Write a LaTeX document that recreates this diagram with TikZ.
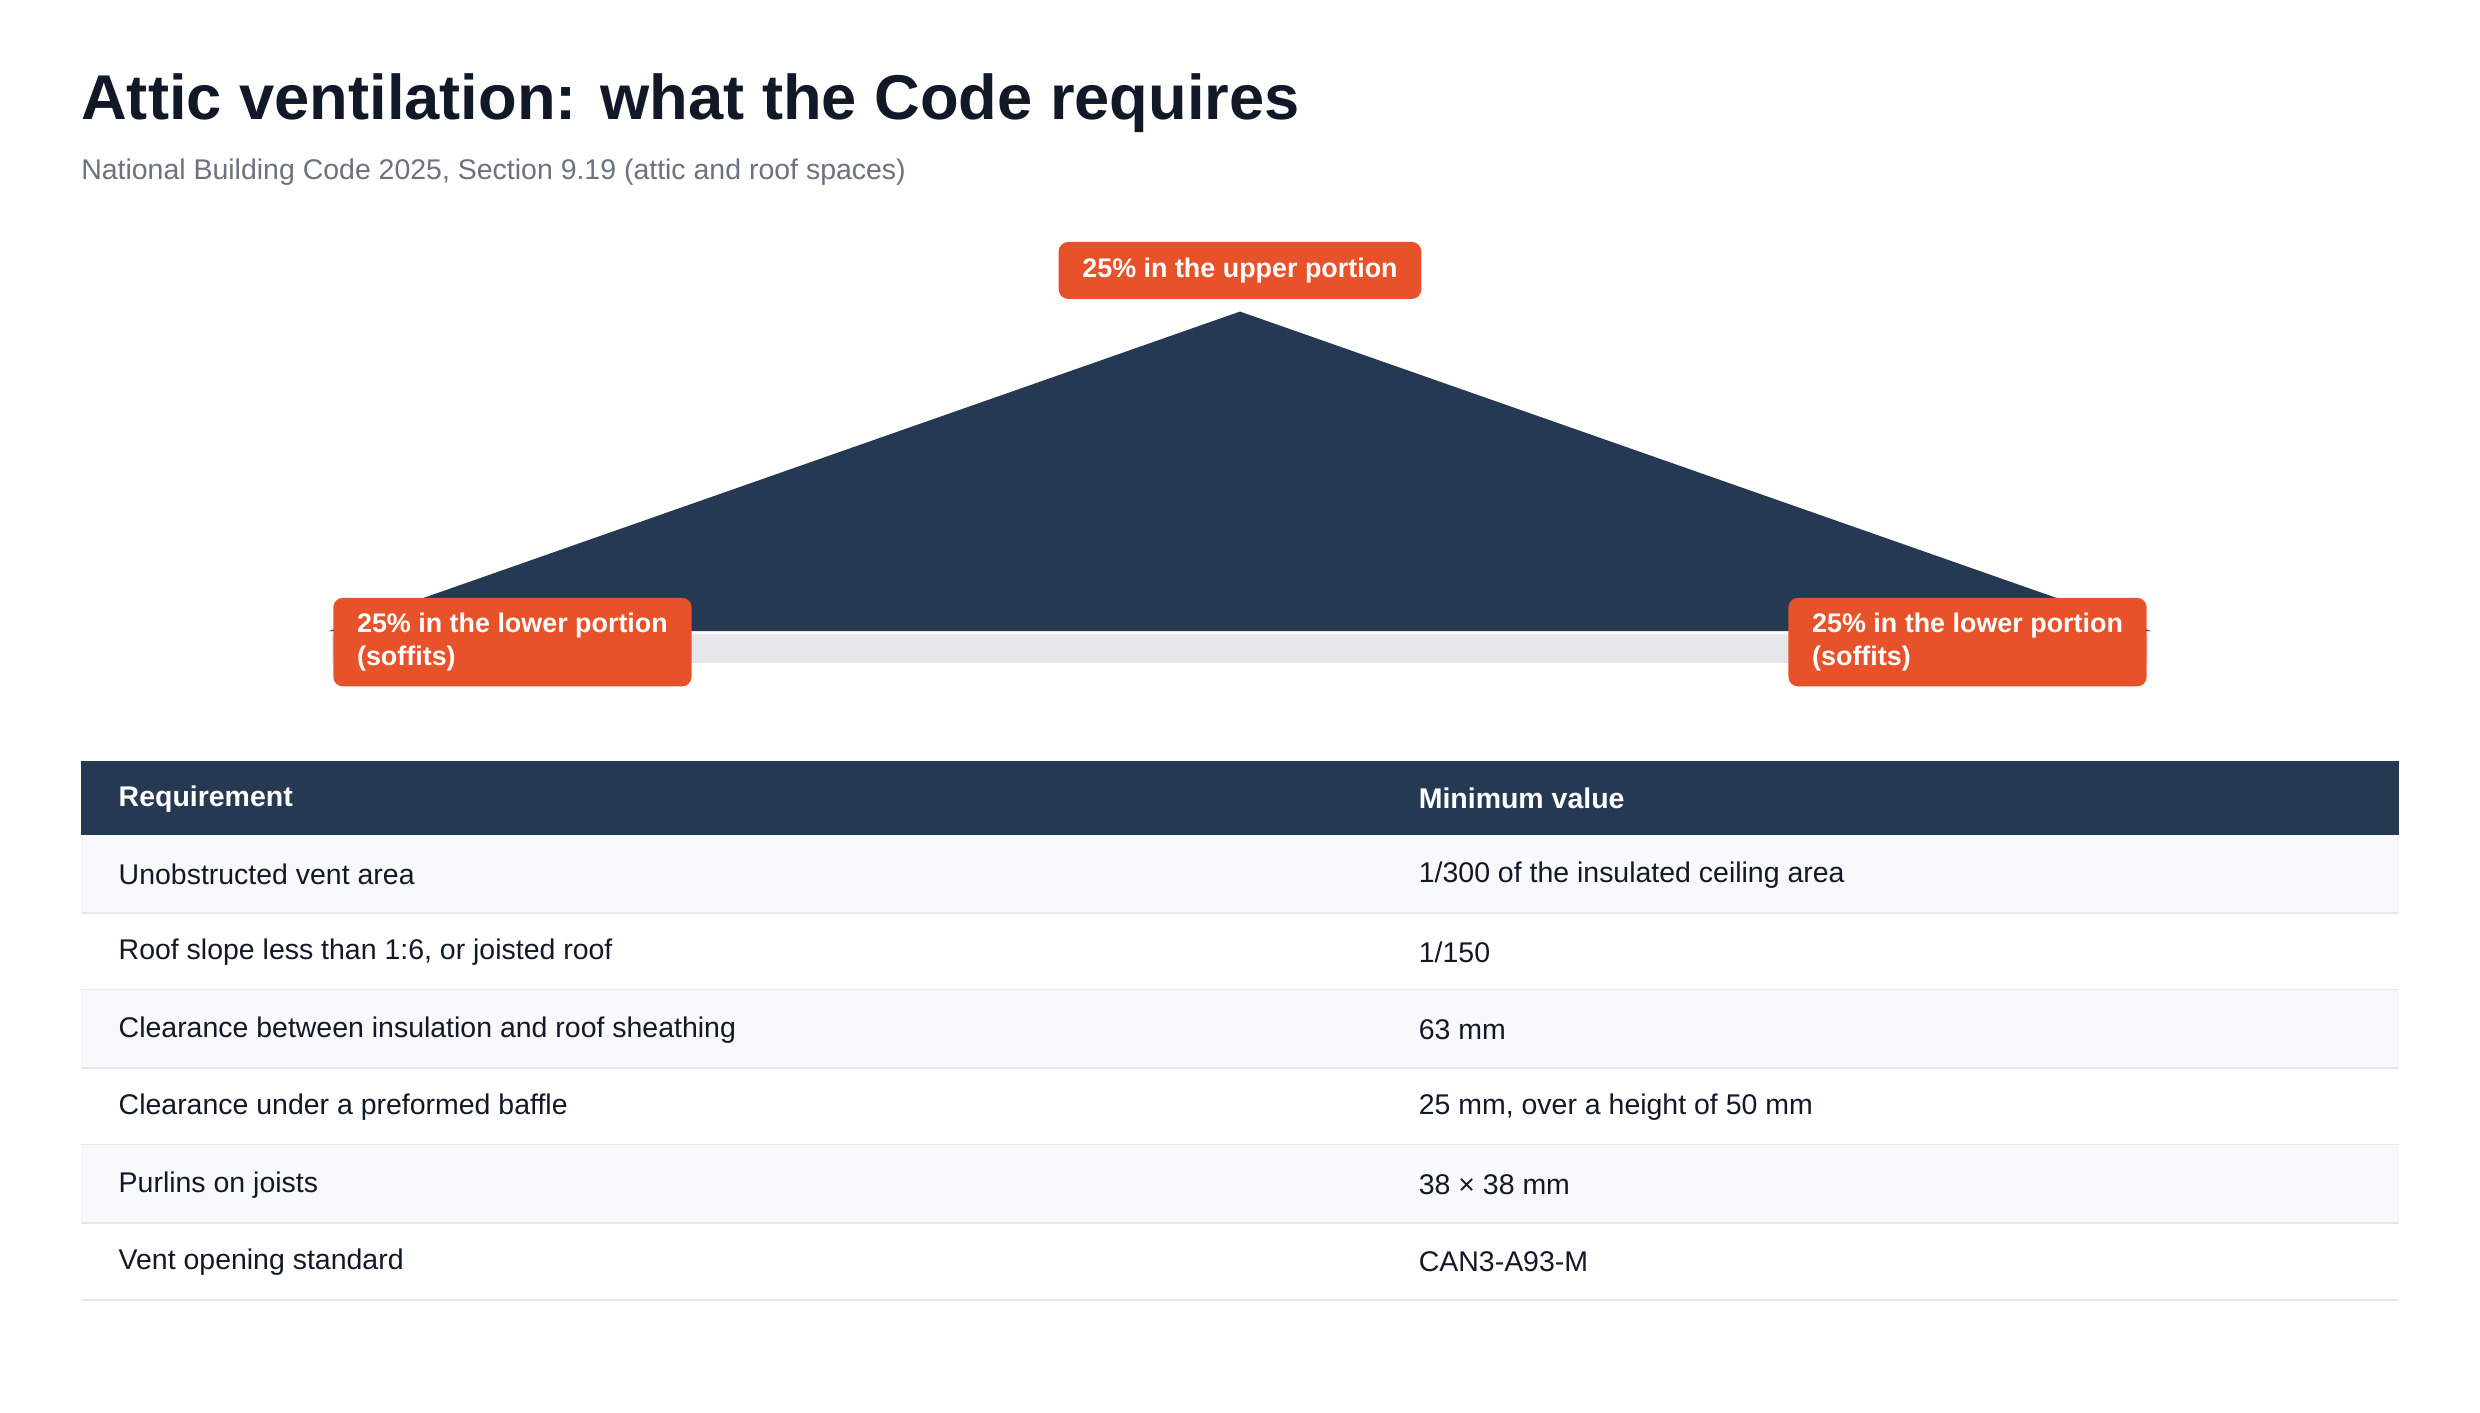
\documentclass[tikz,border=0pt]{standalone}
\usepackage{fontspec}
\setmainfont{Liberation Sans}
\usetikzlibrary{positioning}
\definecolor{navy}{HTML}{253A52}
\definecolor{vent}{HTML}{E8522A}
\definecolor{ink}{HTML}{111827}
\definecolor{subgray}{HTML}{6B7280}
\definecolor{floorgray}{HTML}{E5E7EB}
\definecolor{rowgray}{HTML}{F8F9FA}
\tikzset{
    ventlabel/.style={fill=vent, text=white, rounded corners=3pt, font=\bfseries\fontsize{8.5}{10.5}\selectfont, align=left, inner xsep=7.5pt},
    cell/.style={anchor=west, text=ink, font=\fontsize{9}{11}\selectfont},
    headcell/.style={anchor=west, text=white, font=\bfseries\fontsize{9}{11}\selectfont},
}
\begin{document}
\begin{tikzpicture}[x=0.5pt, y=-0.5pt]
    \useasboundingbox[fill=white] (0,0) rectangle (1568,893);

    \node[anchor=west, text=ink, font=\bfseries\fontsize{20}{24}\selectfont, inner sep=0] (title) at (51,65) {Attic ventilation: what the Code requires};
    \node[anchor=west, text=subgray, font=\fontsize{9}{11}\selectfont, inner sep=0] (subtitle) at (51,109) {National Building Code 2025, Section 9.19 (attic and roof spaces)};

    % roof and ceiling
    \fill[floorgray] (210,401) rectangle (1358,419);
    \fill[navy] (784,197) coordinate (apex) -- (1360,399) coordinate (eaveR) -- (208,399) coordinate (eaveL) -- cycle;

    \node[ventlabel, minimum width=111pt, minimum height=18pt, align=center] (upper) at (784,171) {25\% in the upper portion};
    \node[ventlabel, minimum width=110pt, minimum height=28pt] (lowerL) at (324,406) {25\% in the lower portion\\(soffits)};
    \node[ventlabel, minimum width=110pt, minimum height=28pt] (lowerR) at (1244,406) {25\% in the lower portion\\(soffits)};

    % table
    \fill[navy] (51,481) rectangle (1517,528);
    \node[headcell] (h1) at (68,505) {Requirement};
    \node[headcell] (h2) at (890,505) {Minimum value};
    \foreach \req/\val [count=\i] in {
        Unobstructed vent area/1\slash 300 of the insulated ceiling area,
        {Roof slope less than 1:6, or joisted roof}/1\slash 150,
        Clearance between insulation and roof sheathing/63 mm,
        Clearance under a preformed baffle/{25 mm, over a height of 50 mm},
        Purlins on joists/38 × 38 mm,
        Vent opening standard/CAN3-A93-M}{
        \pgfmathsetmacro{\top}{528+49*(\i-1)}
        \ifodd\i \fill[rowgray] (51,\top) rectangle (1517,\top+49); \fi
        \draw[floorgray, line width=0.6pt] (51,\top+49) -- (1517,\top+49);
        \node[cell] (req\i) at (68,\top+25) {\req};
        \node[cell] (val\i) at (890,\top+25) {\val};
    }
\end{tikzpicture}
\end{document}
